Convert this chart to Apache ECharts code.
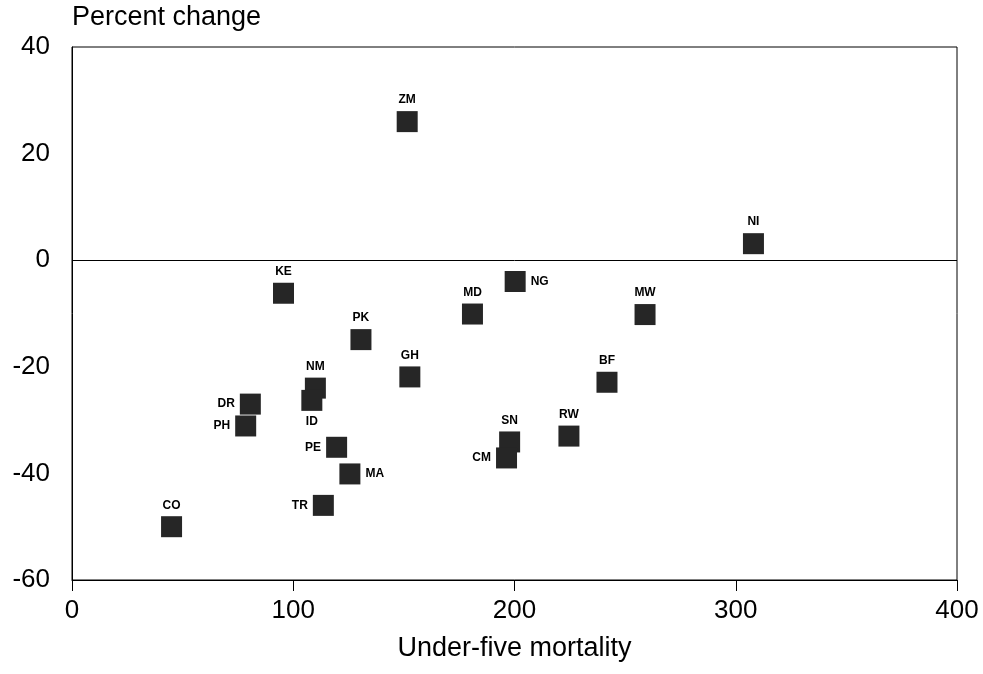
<!DOCTYPE html>
<html>
<head>
<meta charset="utf-8">
<title>Percent change vs under-five mortality</title>
<script src="https://cdn.jsdelivr.net/npm/echarts@6/dist/echarts.min.js"></script>
<style>
  html, body { margin: 0; padding: 0; background: #fff; }
  #chart { width: 983px; height: 674px; }
</style>
</head>
<body>
<div id="chart"></div>
<script>
// country codes
const codes = ['ZM', 'NI', 'KE', 'NG', 'MD', 'MW', 'PK', 'GH', 'BF', 'NM',
  'ID', 'DR', 'PH', 'RW', 'SN', 'PE', 'CM', 'MA', 'TR', 'CO'];
// under-five mortality (x)
const mortality = [151.5, 308, 95.6, 200.3, 181, 259, 130.6, 152.7, 241.8, 110,
  108.4, 80.6, 78.5, 224.6, 197.8, 119.6, 196.4, 125.6, 113.6, 45];
// percent change (y)
const change = [26, 3.1, -6.2, -4, -10.1, -10.2, -14.9, -21.9, -22.9, -24,
  -26.3, -27, -31.1, -33, -34.1, -35.1, -37.1, -40.1, -46, -50];

const xTicks = [0, 100, 200, 300, 400];
const yTicks = [-60, -40, -20, 0, 20, 40];

// where the code sits relative to its square (default: above)
const labelSide = { NG: 'right', MA: 'right', ID: 'bottom', DR: 'left', PH: 'left', PE: 'left', CM: 'left', TR: 'left' };

const font = 'Liberation Sans, Arial, sans-serif';

const points = codes.map((c, i) => ({
  name: c,
  value: [mortality[i], change[i]],
  label: { position: labelSide[c] || 'top' },
}));

const chart = echarts.init(document.getElementById('chart'));
chart.setOption({
  animation: false,
  backgroundColor: '#fff',
  grid: { left: 72, right: 26, top: 47, bottom: 94, show: true, borderColor: '#000', borderWidth: 1 },
  xAxis: {
    type: 'value',
    min: xTicks[0],
    max: xTicks[xTicks.length - 1],
    interval: 100,
    name: 'Under-five mortality',
    nameLocation: 'middle',
    nameGap: 55,
    nameTextStyle: { fontFamily: font, fontSize: 27, color: '#000' },
    axisLine: { onZero: false, lineStyle: { color: '#000', width: 1 } },
    axisTick: { show: true, length: 11, lineStyle: { color: '#000' } },
    axisLabel: { fontFamily: font, fontSize: 26, color: '#000', margin: 18 },
    splitLine: { show: false },
  },
  yAxis: {
    type: 'value',
    min: yTicks[0],
    max: yTicks[yTicks.length - 1],
    interval: 20,
    name: 'Percent change',
    nameLocation: 'end',
    nameGap: 16,
    nameTextStyle: { fontFamily: font, fontSize: 27, color: '#000', align: 'left', verticalAlign: 'bottom' },
    axisLine: { show: true, onZero: false, lineStyle: { color: '#000', width: 1 } },
    axisTick: { show: false },
    axisLabel: { fontFamily: font, fontSize: 26, color: '#000', margin: 22 },
    splitLine: { show: false },
  },
  series: [{
    type: 'scatter',
    symbol: 'rect',
    symbolSize: 21,
    itemStyle: { color: '#262626', opacity: 1 },
    label: {
      show: true,
      formatter: '{b}',
      fontFamily: font,
      fontSize: 12,
      fontWeight: 'bold',
      color: '#000',
      distance: 5,
    },
    data: points,
    // zero line
    markLine: {
      silent: true,
      symbol: 'none',
      label: { show: false },
      lineStyle: { color: '#000', width: 1, type: 'solid' },
      data: [{ yAxis: 0 }],
    },
  }],
});
</script>
</body>
</html>
